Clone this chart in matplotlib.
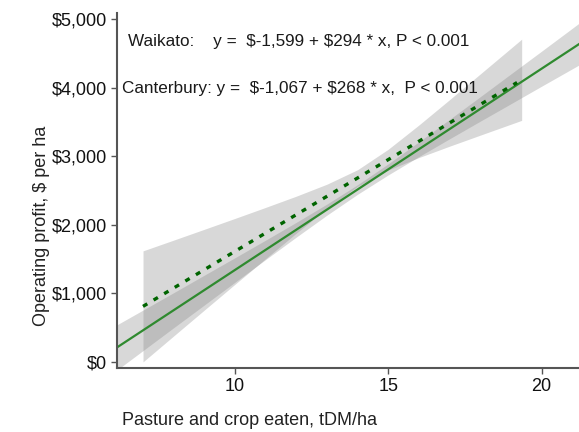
import numpy as np
import matplotlib.pyplot as plt

plt.rcParams["font.family"] = ["Liberation Sans", "DejaVu Sans"]

# Waikato fit and confidence band
waikato_x = [6.16, 7, 8, 9, 10, 11, 12, 13, 14, 15, 16, 17, 18, 19, 20, 21, 21.22]
waikato_fit = [212, 459, 753, 1047, 1341, 1635, 1929, 2223, 2517, 2811, 3105, 3399, 3693, 3987, 4281, 4575, 4640]
waikato_lo = [-118, 163, 497, 829, 1162, 1493, 1821, 2142, 2447, 2730, 2997, 3257, 3514, 3769, 4025, 4279, 4335]
waikato_hi = [542, 755, 1009, 1265, 1520, 1777, 2037, 2304, 2587, 2892, 3213, 3541, 3872, 4205, 4537, 4871, 4945]

# Canterbury fit and confidence band
cant_x = [7, 8, 9, 10, 11, 12, 13, 14, 15, 16, 17, 18, 19, 19.35]
cant_lo = [-2, 377, 755, 1132, 1507, 1879, 2240, 2564, 2801, 2983, 3149, 3310, 3470, 3526]
cant_hi = [1620, 1777, 1935, 2094, 2255, 2419, 2594, 2806, 3105, 3459, 3829, 4204, 4580, 4712]
cant_line_x = [7.0, 9, 11, 13, 15, 17, 19.2]
cant_line_y = [809, 1345, 1881, 2417, 2953, 3489, 4079]

yticks = [0, 1000, 2000, 3000, 4000, 5000]
xticks = [10, 15, 20]

fig = plt.figure(figsize=(5.79, 4.32), dpi=100)
ax = fig.add_axes([0.2025, 0.148, 0.7975, 0.822])

ax.fill_between(waikato_x, waikato_lo, waikato_hi, color="grey", alpha=0.3, linewidth=0)
ax.fill_between(cant_x, cant_lo, cant_hi, color="grey", alpha=0.3, linewidth=0)
ax.plot(waikato_x, waikato_fit, color="#2f8a2f", lw=1.6)
ax.plot(cant_line_x, cant_line_y, color="#006400", lw=2.4, dashes=(1.5, 2.2))

ax.text(6.51, 4674, r"Waikato:    y =  \$-1,599 + \$294 * x, P < 0.001",
        fontsize=12.3, va="center", color="#1a1a1a")
ax.text(6.31, 3988, r"Canterbury: y =  \$-1,067 + \$268 * x,  P < 0.001",
        fontsize=12.3, va="center", color="#1a1a1a")

ax.set_xlim(6.16, 21.22)
ax.set_ylim(-92, 5095)
ax.set_xticks(xticks)
ax.set_yticks(yticks)
ax.set_yticklabels([f"\\${v:,}" for v in yticks])
ax.tick_params(labelsize=13, length=4, width=1, color="#555555", labelcolor="#111111")

for s in ["top", "right"]:
    ax.spines[s].set_visible(False)
for s in ["left", "bottom"]:
    ax.spines[s].set_color("#555555")
    ax.spines[s].set_linewidth(1.5)

ax.set_xlabel("Pasture and crop eaten, tDM/ha", fontsize=13, color="#222222")
ax.set_ylabel(r"Operating profit, \$ per ha", fontsize=13, color="#222222")
ax.xaxis.set_label_coords(0.287, -0.124)
ax.yaxis.set_label_coords(-0.145, 0.40)

fig.savefig("out.png", dpi=100)
